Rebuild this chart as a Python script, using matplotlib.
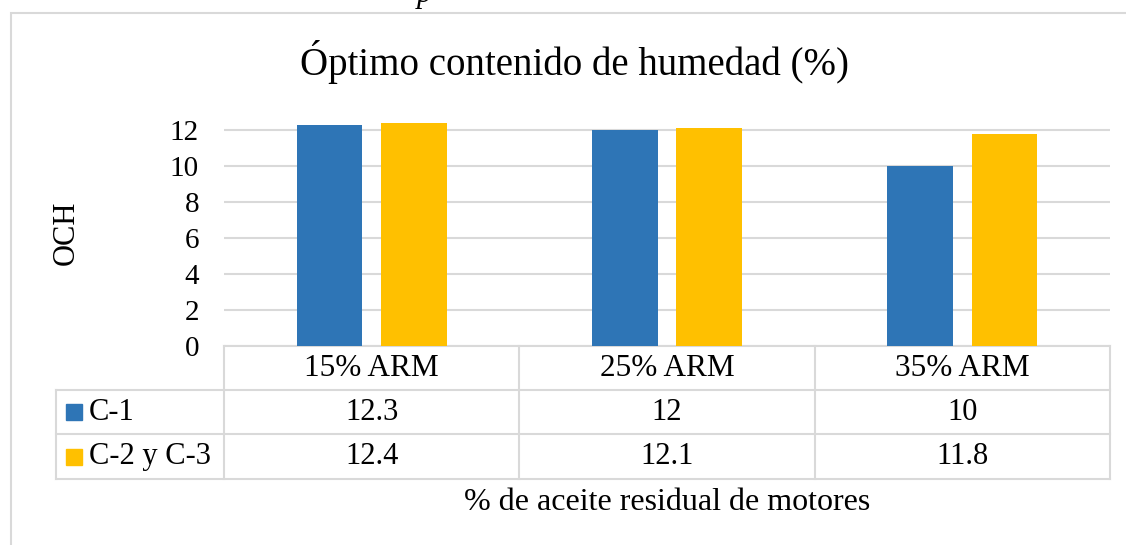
import matplotlib.pyplot as plt
import matplotlib.transforms as mtransforms
from matplotlib.patches import Rectangle

# data
categories = ['15% ARM', '25% ARM', '35% ARM']
series_names = ['C-1', 'C-2 y C-3']
c1_values = [12.3, 12, 10]
c2_values = [12.4, 12.1, 11.8]
series_values = [c1_values, c2_values]
series_colors = ['#2e75b6', '#ffc000']
y_ticks = [0, 2, 4, 6, 8, 10, 12]

W, H = 1126, 545
plt.rcParams['font.family'] = ['Liberation Serif', 'DejaVu Serif']
fig = plt.figure(figsize=(W / 100, H / 100), dpi=100)


def fx(px):
    return px / W


def fy(py):
    return 1 - py / H


grid_color = '#d9d9d9'

# outer chart border (runs past the right and bottom edge)
fig.patches.append(Rectangle((fx(11), fy(600)), fx(1200) - fx(11), fy(13) - fy(600),
                             transform=fig.transFigure, fill=False,
                             edgecolor=grid_color, lw=1.5))

# cut-off caption tail at the top
fig.text(fx(424), fy(2), 'p', fontsize=22, style='italic', ha='center', va='baseline')

ax = fig.add_axes([fx(224), fy(346), fx(1110) - fx(224), fy(94) - fy(346)])
ax.set_xlim(-0.5, len(categories) - 0.5)
ax.set_ylim(0, 14)

bar_w = 0.223
offsets = [-0.143, 0.143]
for vals, off, col in zip(series_values, offsets, series_colors):
    ax.bar([i + off for i in range(len(categories))], vals, width=bar_w,
           color=col, zorder=3)

ax.set_yticks(y_ticks)
ax.set_yticklabels([str(t) for t in y_ticks], fontsize=21)
ax.tick_params(axis='y', length=0, pad=18)
ax.set_xticks([])
ax.yaxis.grid(True, color=grid_color, lw=1.5, zorder=0)
for s in ax.spines.values():
    s.set_visible(False)

fig.text(fx(575), fy(62), 'Óptimo contenido de humedad (%)', fontsize=28,
         ha='center', va='center')
fig.text(fx(66), fy(233), 'OCH', fontsize=22, rotation=90, ha='center', va='center')
fig.text(fx(667), fy(503), '% de aceite residual de motores', fontsize=23,
         ha='center', va='center')

# data table under the axis
trans = mtransforms.blended_transform_factory(ax.transData, fig.transFigure)
row_y = [346, 390, 434, 479]
edges = [i - 0.5 for i in range(len(categories) + 1)]
lkw = dict(color=grid_color, lw=1.5, clip_on=False)

ax.plot([edges[0], edges[-1]], [fy(row_y[0])] * 2, transform=trans, **lkw)
for ry in row_y[1:]:
    fig.add_artist(plt.Line2D([fx(56), fx(1110)], [fy(ry)] * 2, **lkw))
for e in edges:
    ax.plot([e, e], [fy(row_y[0]), fy(row_y[-1])], transform=trans, **lkw)
fig.add_artist(plt.Line2D([fx(56), fx(56)], [fy(row_y[1]), fy(row_y[-1])], **lkw))

for i, cat in enumerate(categories):
    ax.text(i, fy((row_y[0] + row_y[1]) / 2), cat, transform=trans,
            fontsize=22.5, ha='center', va='center')
for r, (name, vals, col) in enumerate(zip(series_names, series_values, series_colors)):
    yc = (row_y[r + 1] + row_y[r + 2]) / 2
    fig.patches.append(Rectangle((fx(66), fy(yc + 8)), fx(16), fy(yc - 8) - fy(yc + 8),
                                 transform=fig.transFigure, color=col))
    fig.text(fx(89), fy(yc), name, fontsize=22, ha='left', va='center')
    for i, v in enumerate(vals):
        ax.text(i, fy(yc), f'{v:g}', transform=trans, fontsize=22,
                ha='center', va='center')

fig.savefig('out.png', dpi=100)
